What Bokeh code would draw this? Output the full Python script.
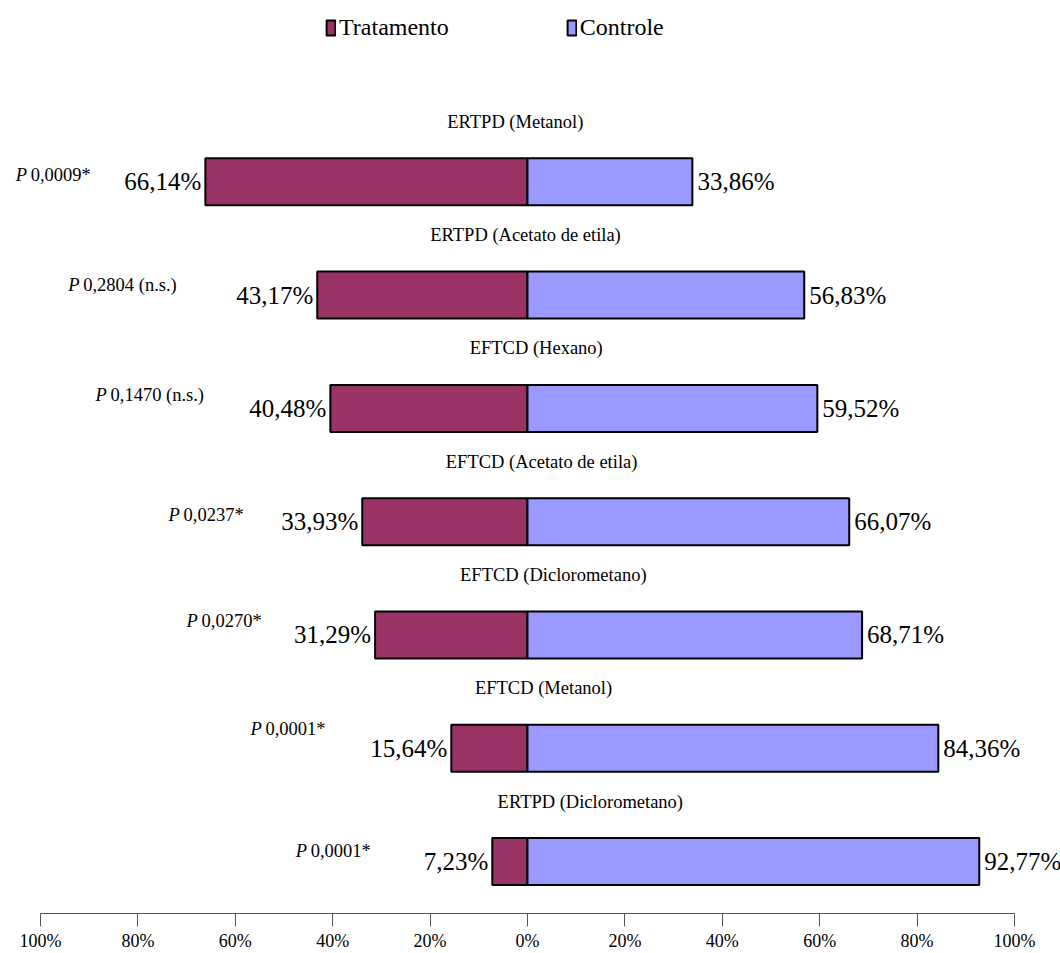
from bokeh.plotting import figure
from bokeh.models import Range1d, FixedTicker, Legend, LegendItem, ColumnDataSource
from bokeh.core.properties import value
from bokeh.embed import file_html
from bokeh.resources import INLINE

# Extracts, top to bottom
categories = [
    "ERTPD (Metanol)",
    "ERTPD (Acetato de etila)",
    "EFTCD (Hexano)",
    "EFTCD (Acetato de etila)",
    "EFTCD (Diclorometano)",
    "EFTCD (Metanol)",
    "ERTPD (Diclorometano)",
]
tratamento = [66.14, 43.17, 40.48, 33.93, 31.29, 15.64, 7.23]
controle = [33.86, 56.83, 59.52, 66.07, 68.71, 84.36, 92.77]
p_values = ["0,0009*", "0,2804 (n.s.)", "0,1470 (n.s.)", "0,0237*",
            "0,0270*", "0,0001*", "0,0001*"]

tick_values = [-100, -80, -60, -40, -20, 0, 20, 40, 60, 80, 100]
tick_labels = ["100%", "80%", "60%", "40%", "20%", "0%",
               "20%", "40%", "60%", "80%", "100%"]

# Layout of the annotation texts (x in axis percent, y in row units)
title_x = [-2.5, -0.4, 1.8, 2.9, 5.3, 3.3, 12.9]
p_label_x = [-105.1, -94.3, -88.7, -73.7, -70.0, -56.9, -47.6]
p_label_dy = [-0.057, -0.088, -0.119, -0.062, -0.124, -0.172, -0.097]

FONT = "Liberation Serif"
PURPLE = "#993366"
LAVENDER = "#9999FF"


def pct(v):
    return f"{v:.2f}".replace(".", ",") + "%"


rows = list(range(len(categories)))
src = ColumnDataSource(dict(
    row=rows,
    trat_left=[-v for v in tratamento],
    zero=[0] * len(rows),
    ctrl=controle,
    trat_label=[pct(v) for v in tratamento],
    ctrl_label=[pct(v) for v in controle],
    title=categories,
    title_x=title_x,
    title_y=[r - 0.53 for r in rows],
    p_x=p_label_x,
    p_y=[r + d for r, d in zip(rows, p_label_dy)],
    p_letter=["P"] * len(rows),
    p_val=p_values,
))

p = figure(
    width=1060, height=953,
    output_backend="svg", toolbar_location=None,
    x_range=Range1d(-108.21, 109.45),
    y_range=Range1d(6.458, -1.600),
    y_axis_location=None,
    min_border_left=0, min_border_right=0,
    min_border_top=0, min_border_bottom=36,
)
p.xgrid.visible = False
p.ygrid.visible = False
p.outline_line_color = None
p.background_fill_color = "white"
p.border_fill_color = "white"

bar_h = 0.415
r_trat = p.hbar(y="row", left="trat_left", right="zero", height=bar_h, source=src,
                fill_color=PURPLE, line_color="black", line_width=2)
r_ctrl = p.hbar(y="row", left="zero", right="ctrl", height=bar_h, source=src,
                fill_color=LAVENDER, line_color="black", line_width=2)

# value labels beside the bars
p.text(x="trat_left", y="row", text="trat_label", source=src,
       text_align="right", text_baseline="middle", x_offset=-4,
       text_font=value(FONT), text_font_size="25px", text_color="black")
p.text(x="ctrl", y="row", text="ctrl_label", source=src,
       text_align="left", text_baseline="middle", x_offset=5,
       text_font=value(FONT), text_font_size="25px", text_color="black")

# extract names above each bar
p.text(x="title_x", y="title_y", text="title", source=src,
       text_align="center", text_baseline="middle",
       text_font=value(FONT), text_font_size="18.5px", text_color="black")

# significance labels
p.text(x="p_x", y="p_y", text="p_letter", source=src,
       text_align="left", text_baseline="middle", text_font_style="italic",
       text_font=value(FONT), text_font_size="18.5px", text_color="black")
p.text(x="p_x", y="p_y", text="p_val", source=src,
       text_align="left", text_baseline="middle", x_offset=15,
       text_font=value(FONT), text_font_size="18.5px", text_color="black")

# axis
ax = p.xaxis[0]
ax.ticker = FixedTicker(ticks=tick_values)
ax.major_label_overrides = {t: l for t, l in zip(tick_values, tick_labels)}
ax.bounds = (-100, 100)
ax.major_tick_in = 0
ax.major_tick_out = 13
ax.minor_tick_line_color = None
ax.axis_line_color = "#555555"
ax.major_tick_line_color = "#555555"
ax.major_label_standoff = 4
ax.major_label_text_font = FONT
ax.major_label_text_font_size = "18px"
ax.major_label_text_color = "black"

legend = Legend(
    items=[LegendItem(label="Tratamento", renderers=[r_trat]),
           LegendItem(label="Controle", renderers=[r_ctrl])],
    orientation="horizontal",
    location=(325, 872),
    border_line_color=None,
    background_fill_alpha=0,
    padding=0, margin=0,
    glyph_width=11, glyph_height=19,
    label_standoff=3, spacing=117,
    label_height=19, label_width=0,
    label_text_font=FONT, label_text_font_size="24px",
    label_text_color="black",
    label_text_baseline="middle",
)
p.add_layout(legend)

open("out.html", "w").write(file_html(p, INLINE))
